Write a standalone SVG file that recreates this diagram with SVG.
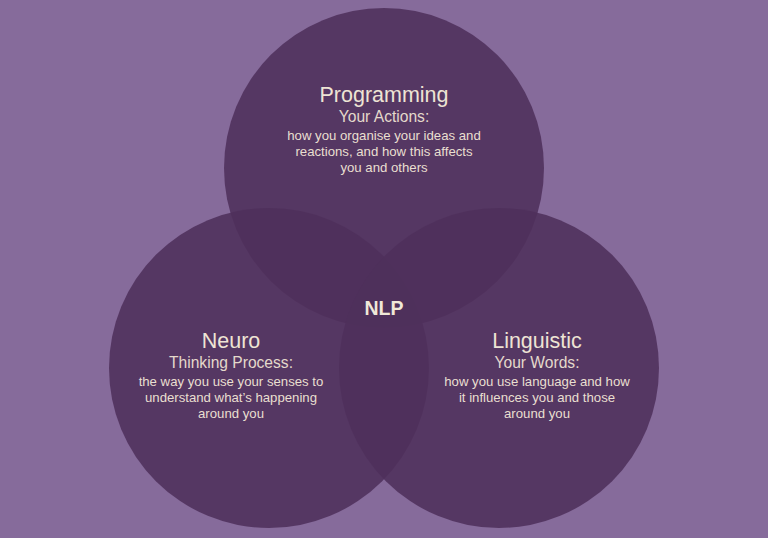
<svg xmlns="http://www.w3.org/2000/svg" width="768" height="538" viewBox="0 0 768 538">
<style>
.c{fill:#4e305b;fill-opacity:0.88}
text{font-family:"Liberation Sans",Arial,sans-serif;text-anchor:middle;fill:#eee4d4}
.t{font-size:21.5px}
.s{font-size:15.6px;fill:#e4d9cb}
.b{font-size:13.2px;fill:#e9dfd0}
.n{font-size:19.5px;font-weight:bold;fill:#f0e8d8}
</style>
<rect width="768" height="538" fill="#866b9b"/>
<g id="programming">
<circle class="c" cx="384" cy="168" r="160"/>
<text class="t" x="384" y="102">Programming</text>
<text class="s" x="384" y="122">Your Actions:</text>
<text class="b" x="384" y="140">how you organise your ideas and</text>
<text class="b" x="384" y="156">reactions, and how this affects</text>
<text class="b" x="384" y="172">you and others</text>
</g>
<g id="neuro">
<circle class="c" cx="269" cy="368" r="160"/>
<text class="t" x="231" y="348">Neuro</text>
<text class="s" x="231" y="368">Thinking Process:</text>
<text class="b" x="231" y="386">the way you use your senses to</text>
<text class="b" x="231" y="402">understand what’s happening</text>
<text class="b" x="231" y="418">around you</text>
</g>
<g id="linguistic">
<circle class="c" cx="499" cy="368" r="160"/>
<text class="t" x="537" y="348">Linguistic</text>
<text class="s" x="537" y="368">Your Words:</text>
<text class="b" x="537" y="386">how you use language and how</text>
<text class="b" x="537" y="402">it influences you and those</text>
<text class="b" x="537" y="418">around you</text>
</g>
<g id="nlp">
<text class="n" x="384" y="315">NLP</text>
</g>
<g id="connectors"/>
</svg>
